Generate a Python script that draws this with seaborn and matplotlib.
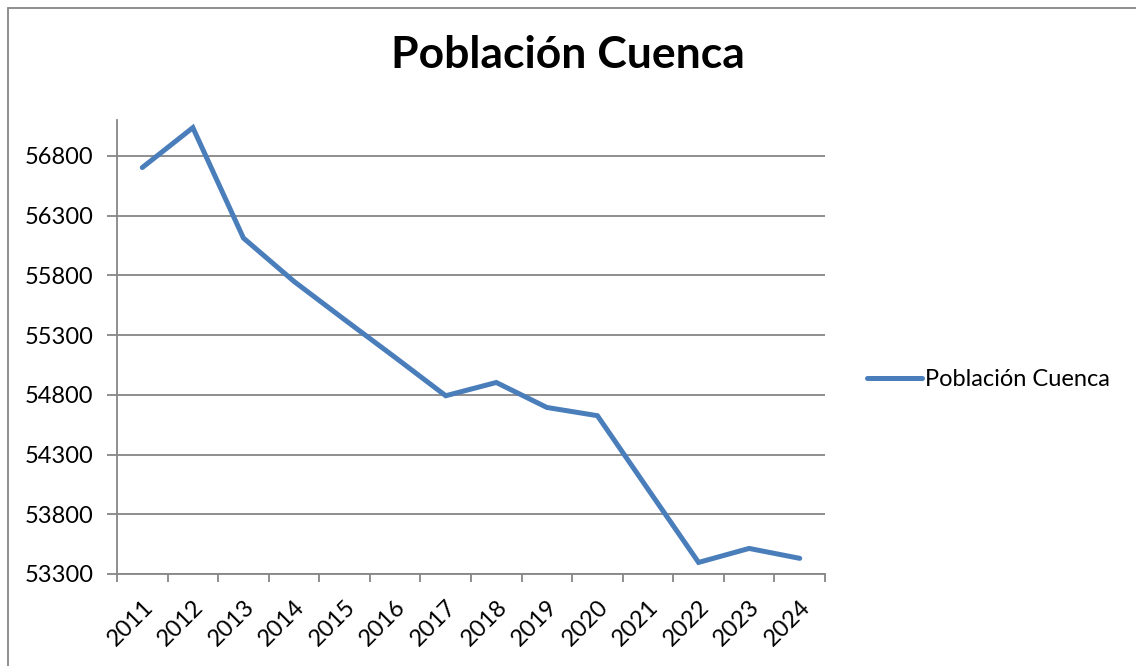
import matplotlib
matplotlib.use("Agg")
import matplotlib.pyplot as plt
import seaborn as sns
import pandas as pd
from matplotlib.lines import Line2D
from matplotlib.ticker import FixedLocator, NullFormatter

years = ["2011", "2012", "2013", "2014", "2015", "2016", "2017",
         "2018", "2019", "2020", "2021", "2022", "2023", "2024"]
poblacion = [56702, 57036, 56112, 55749, 55429, 55113, 54792,
             54903, 54694, 54625, 54010, 53397, 53514, 53431]
y_ticks = [53300, 53800, 54300, 54800, 55300, 55800, 56300, 56800]
series_name = "Población Cuenca"
title = "Población Cuenca"

sns.set_theme(style="white")
plt.rcParams["font.family"] = ["Lato", "DejaVu Sans"]
plt.rcParams["text.color"] = "black"
plt.rcParams["xtick.labelcolor"] = "black"
plt.rcParams["ytick.labelcolor"] = "black"

df = pd.DataFrame({"idx": range(len(years)), "year": years, "value": poblacion})

W, H = 1136, 666
fig = plt.figure(figsize=(W / 100, H / 100), dpi=100)
ax = fig.add_axes([117 / W, 1 - 574 / H, (825 - 117) / W, (574 - 120) / H])

sns.lineplot(data=df, x="idx", y="value", ax=ax, color="#4A7EBB",
             linewidth=3.6, label=series_name, solid_capstyle="round",
             solid_joinstyle="miter")

grey = "#868686"
ax.set_xlim(-0.5, len(years) - 0.5)
ax.set_ylim(53300, 57100)
ax.set_yticks(y_ticks)
ax.yaxis.grid(True, color=grey, linewidth=1.3)
ax.xaxis.grid(False)
for s in ["top", "right"]:
    ax.spines[s].set_visible(False)
for s in ["left", "bottom"]:
    ax.spines[s].set_color(grey)
    ax.spines[s].set_linewidth(1.3)

ax.xaxis.set_major_locator(FixedLocator([i - 0.5 for i in range(len(years) + 1)]))
ax.xaxis.set_major_formatter(NullFormatter())
ax.xaxis.set_minor_locator(FixedLocator(list(range(len(years)))))
ax.set_xticklabels(years, minor=True, rotation=45, ha="right", va="top",
                   rotation_mode="anchor", fontsize=17)
ax.tick_params(axis="x", which="major", length=6, width=1.3, color=grey,
               bottom=True, direction="out")
ax.tick_params(axis="x", which="minor", length=0, pad=16)
ax.tick_params(axis="y", length=7, width=1.3, color=grey, left=True,
               direction="out", labelsize=17, pad=10)
ax.set_xlabel("")
ax.set_ylabel("")

ax.get_legend().remove()
handles, labels = ax.get_legend_handles_labels()
fig.legend(handles, labels, loc="center left",
           bbox_to_anchor=(846 / W, 1 - 380 / H), frameon=False,
           fontsize=17, handlelength=2.3, handletextpad=0.15)

fig.text(568 / W, 1 - 68 / H, title, ha="center", va="baseline",
         fontsize=32, fontweight="bold")

fig.add_artist(Line2D([8 / W, 8 / W], [0, 1 - 8 / H], transform=fig.transFigure,
                      color=grey, linewidth=1.3))
fig.add_artist(Line2D([8 / W, 1], [1 - 8 / H, 1 - 8 / H], transform=fig.transFigure,
                      color=grey, linewidth=1.3))

fig.savefig("out.png", dpi=100)
